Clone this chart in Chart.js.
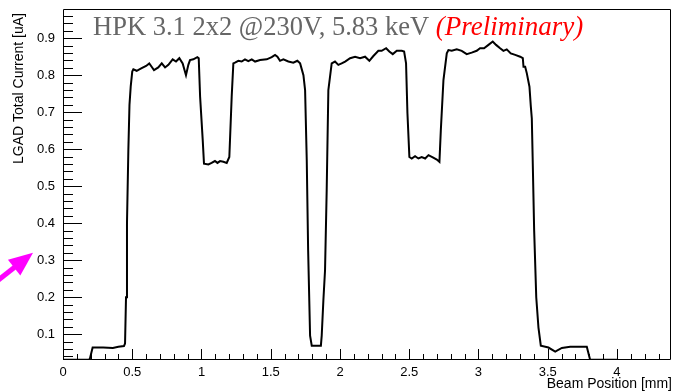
<!DOCTYPE html>
<html>
<head>
<meta charset="utf-8">
<script src="https://cdn.jsdelivr.net/npm/chart.js@4/dist/chart.umd.min.js"></script>
<style>
  html, body { margin: 0; padding: 0; background: #ffffff; }
  #wrap { width: 673px; height: 392px; }
</style>
</head>
<body>
<div id="wrap"><canvas id="scan" width="673" height="392"></canvas></div>
<script>
// Beam scan across the HPK 3.1 2x2 LGAD: beam position [mm] vs total current [uA]
const beamPosition = [
  0.000, 0.190, 0.195, 0.214, 0.290, 0.360, 0.400, 0.440, 0.448, 0.455,
  0.462, 0.472, 0.480, 0.489, 0.500, 0.508, 0.532, 0.568, 0.600, 0.623,
  0.640, 0.657, 0.688, 0.713, 0.737, 0.761, 0.792, 0.816, 0.840, 0.864,
  0.888, 0.905, 0.917, 0.941, 0.970, 0.980, 0.990, 1.009, 1.018, 1.050,
  1.073, 1.097, 1.115, 1.134, 1.158, 1.182, 1.201, 1.218, 1.230, 1.242,
  1.266, 1.290, 1.314, 1.338, 1.363, 1.387, 1.423, 1.471, 1.507, 1.531,
  1.548, 1.567, 1.591, 1.627, 1.663, 1.692, 1.712, 1.736, 1.748, 1.760,
  1.770, 1.784, 1.796, 1.862, 1.868, 1.880, 1.892, 1.904, 1.916, 1.940,
  1.964, 1.988, 2.012, 2.037, 2.073, 2.109, 2.145, 2.181, 2.212, 2.241,
  2.277, 2.301, 2.333, 2.356, 2.381, 2.410, 2.446, 2.463, 2.477, 2.487,
  2.501, 2.518, 2.542, 2.566, 2.590, 2.615, 2.639, 2.670, 2.699, 2.718,
  2.728, 2.747, 2.771, 2.783, 2.807, 2.843, 2.879, 2.915, 2.951, 2.987,
  3.011, 3.040, 3.072, 3.103, 3.127, 3.156, 3.180, 3.204, 3.233, 3.265,
  3.301, 3.320, 3.325, 3.337, 3.349, 3.368, 3.378, 3.385, 3.392, 3.402,
  3.417, 3.433, 3.450, 3.505, 3.554, 3.602, 3.662, 3.782, 3.806, 4.000
];
const totalCurrent = [
  0.031, 0.031, 0.035, 0.064, 0.064, 0.063, 0.066, 0.068, 0.075, 0.200,
  0.400, 0.600, 0.720, 0.770, 0.810, 0.816, 0.812, 0.819, 0.825, 0.832,
  0.823, 0.814, 0.821, 0.832, 0.821, 0.828, 0.843, 0.837, 0.846, 0.832,
  0.800, 0.828, 0.841, 0.843, 0.849, 0.846, 0.742, 0.624, 0.561, 0.559,
  0.563, 0.568, 0.563, 0.568, 0.566, 0.563, 0.579, 0.742, 0.832, 0.834,
  0.839, 0.837, 0.843, 0.838, 0.843, 0.837, 0.841, 0.843, 0.849, 0.855,
  0.850, 0.839, 0.843, 0.837, 0.834, 0.839, 0.832, 0.800, 0.760, 0.570,
  0.327, 0.096, 0.069, 0.069, 0.096, 0.191, 0.273, 0.490, 0.760, 0.832,
  0.837, 0.828, 0.832, 0.837, 0.846, 0.850, 0.846, 0.850, 0.839, 0.852,
  0.866, 0.866, 0.873, 0.864, 0.857, 0.866, 0.866, 0.864, 0.832, 0.697,
  0.579, 0.575, 0.581, 0.575, 0.579, 0.575, 0.584, 0.578, 0.572, 0.566,
  0.651, 0.787, 0.859, 0.868, 0.866, 0.870, 0.866, 0.857, 0.861, 0.866,
  0.873, 0.873, 0.882, 0.891, 0.882, 0.873, 0.866, 0.870, 0.859, 0.855,
  0.850, 0.846, 0.823, 0.823, 0.805, 0.769, 0.715, 0.683, 0.561, 0.380,
  0.200, 0.118, 0.069, 0.064, 0.053, 0.063, 0.066, 0.066, 0.031, 0.031
];

const xTickValues = [0, 0.5, 1, 1.5, 2, 2.5, 3, 3.5, 4];
const xTickLabels = ['0', '0.5', '1', '1.5', '2', '2.5', '3', '3.5', '4'];
const yTickValues = [0.1, 0.2, 0.3, 0.4, 0.5, 0.6, 0.7, 0.8, 0.9];
const yTickLabels = ['0.1', '0.2', '0.3', '0.4', '0.5', '0.6', '0.7', '0.8', '0.9'];
const xRange = [0, 4.39];
const yRange = [0.0303, 0.979];
const xMinorStep = 0.1;
const yMinorStep = 0.02;

const headline = 'HPK 3.1 2x2 @230V, 5.83 keV';
const headlineTag = '(Preliminary)';
const xTitle = 'Beam Position [mm]';
const yTitle = 'LGAD Total Current [uA]';
const markerValue = 0.32; // level the magenta arrow points at

const points = beamPosition.map((x, i) => ({ x: x, y: totalCurrent[i] }));
const sansFont = '"Liberation Sans", Arial, sans-serif';

function minorValues(lo, hi, step) {
  const out = [];
  const n = Math.floor((hi - lo) / step + 1e-6);
  for (let k = 1; k <= n; k++) out.push(Math.round((lo + k * step) * 1e4) / 1e4);
  return out;
}
function isMajor(list, v) {
  return list.some(t => Math.abs(t - v) < 1e-6);
}

// Frame, inward tick marks, axis titles, headline and the magenta pointer
const framePlugin = {
  id: 'rootFrame',
  afterDraw(chart) {
    const ctx = chart.ctx;
    const a = chart.chartArea;
    const xs = chart.scales.x, ys = chart.scales.y;
    const L = Math.round(a.left), R = Math.round(a.right);
    const T = Math.round(a.top), B = Math.round(a.bottom);

    ctx.save();
    ctx.setLineDash([]);
    ctx.strokeStyle = '#000000';
    ctx.lineWidth = 1;
    ctx.beginPath();
    ctx.rect(L + 0.5, T + 0.5, R - L - 1, B - T - 1);
    ctx.stroke();

    // x ticks, pointing up from the bottom edge
    const xAll = [0].concat(minorValues(0, xRange[1], xMinorStep));
    for (const v of xAll) {
      const px = Math.round(xs.getPixelForValue(v)) + 0.5;
      const len = isMajor(xTickValues, v) ? 11 : 6;
      ctx.beginPath();
      ctx.moveTo(px, B);
      ctx.lineTo(px, B - len);
      ctx.stroke();
    }
    // y ticks, pointing right from the left edge
    const yAll = minorValues(0, yRange[1] - 0.005, yMinorStep).filter(v => v > yRange[0]);
    for (const v of yAll) {
      const py = Math.round(ys.getPixelForValue(v)) + 0.5;
      const len = isMajor(yTickValues, v) ? 19 : 10;
      ctx.beginPath();
      ctx.moveTo(L, py);
      ctx.lineTo(L + len, py);
      ctx.stroke();
    }

    // axis titles
    ctx.fillStyle = '#000000';
    ctx.font = '14px ' + sansFont;
    ctx.textAlign = 'right';
    ctx.textBaseline = 'alphabetic';
    ctx.fillText(xTitle, R + 1, 388);
    ctx.save();
    ctx.translate(23, T + 4);
    ctx.rotate(-Math.PI / 2);
    ctx.fillText(yTitle, 0, 0);
    ctx.restore();

    // headline
    ctx.textAlign = 'left';
    ctx.font = '26.5px "Liberation Serif", "DejaVu Serif", serif';
    ctx.fillStyle = '#666666';
    const hx = L + 30, hy = T + 26;
    ctx.fillText(headline + ' ', hx, hy);
    const w = ctx.measureText(headline + ' ').width;
    ctx.font = 'italic 27px "Liberation Serif", "DejaVu Serif", serif';
    ctx.fillStyle = '#ff0000';
    ctx.fillText(headlineTag, hx + w, hy);

    // magenta pointer towards the y axis
    const tipX = L - 30, tipY = ys.getPixelForValue(markerValue);
    const ang = Math.atan2(-14.8, 18.8);
    const headLen = 24, headHalf = 10;
    const bx = tipX - headLen * Math.cos(ang), by = tipY - headLen * Math.sin(ang);
    ctx.strokeStyle = '#ff00ff';
    ctx.fillStyle = '#ff00ff';
    ctx.lineWidth = 5;
    ctx.beginPath();
    ctx.moveTo(bx + 3 * Math.cos(ang), by + 3 * Math.sin(ang));
    ctx.lineTo(bx - 40 * Math.cos(ang), by - 40 * Math.sin(ang));
    ctx.stroke();
    ctx.beginPath();
    ctx.moveTo(tipX, tipY);
    ctx.lineTo(bx + headHalf * Math.sin(ang), by - headHalf * Math.cos(ang));
    ctx.lineTo(bx - headHalf * Math.sin(ang), by + headHalf * Math.cos(ang));
    ctx.closePath();
    ctx.fill();
    ctx.restore();
  }
};

new Chart(document.getElementById('scan'), {
  type: 'line',
  data: {
    datasets: [{
      data: points,
      borderColor: '#000000',
      borderWidth: 2,
      pointRadius: 0,
      tension: 0,
      fill: false
    }]
  },
  options: {
    responsive: false,
    animation: false,
    devicePixelRatio: 1,
    layout: { padding: { top: 9, right: 2, left: 0, bottom: 0 } },
    plugins: { legend: { display: false }, tooltip: { enabled: false } },
    scales: {
      x: {
        type: 'linear',
        min: xRange[0],
        max: xRange[1],
        afterBuildTicks: s => { s.ticks = xTickValues.map(v => ({ value: v })); },
        afterFit: s => { s.height = 32; s.paddingLeft = 0; s.paddingRight = 0; },
        grid: { display: false, drawTicks: false },
        border: { display: false },
        ticks: {
          autoSkip: false,
          maxRotation: 0,
          padding: 5,
          color: '#000',
          font: { family: sansFont, size: 13 },
          callback: v => xTickLabels[xTickValues.findIndex(t => Math.abs(t - v) < 1e-9)]
        }
      },
      y: {
        type: 'linear',
        min: yRange[0],
        max: yRange[1],
        afterBuildTicks: s => { s.ticks = yTickValues.map(v => ({ value: v })); },
        afterFit: s => { s.width = 63; s.paddingTop = 0; s.paddingBottom = 0; },
        grid: { display: false, drawTicks: false },
        border: { display: false },
        ticks: {
          autoSkip: false,
          padding: 8,
          color: '#000',
          font: { family: sansFont, size: 13 },
          callback: v => yTickLabels[yTickValues.findIndex(t => Math.abs(t - v) < 1e-9)]
        }
      }
    }
  },
  plugins: [framePlugin]
});
</script>
</body>
</html>
